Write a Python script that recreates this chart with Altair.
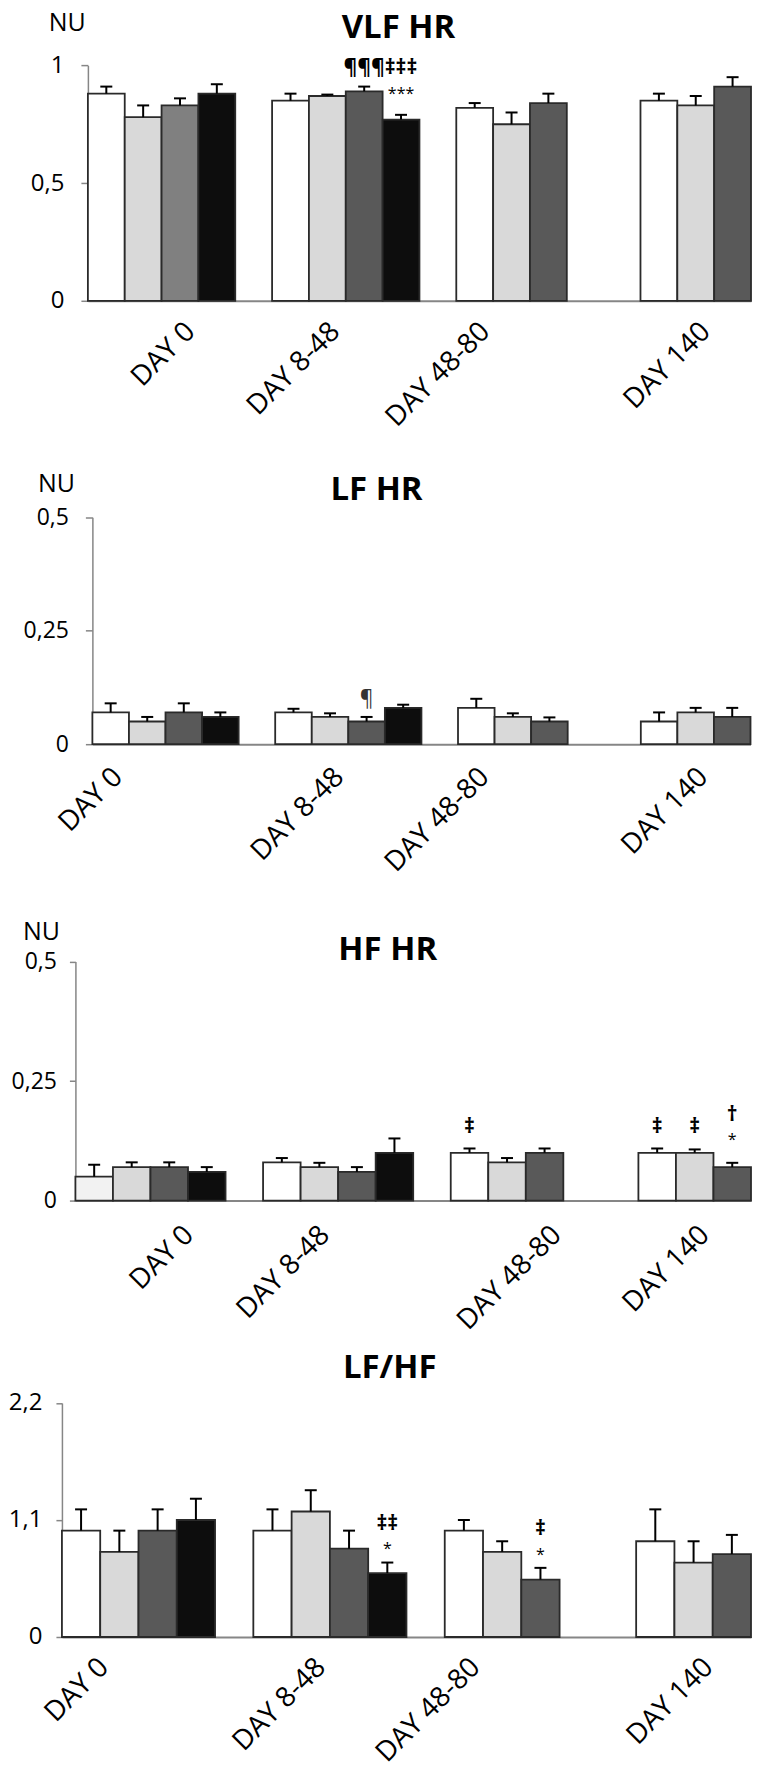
import json
import altair as alt
import pandas as pd

# ---------------- data ----------------
days = ["DAY 0", "DAY 8-48", "DAY 48-80", "DAY 140"]
series_names = ["Group 1", "Group 2", "Group 3", "Group 4"]

vlf_mean = [[0.88, 0.78, 0.83, 0.88], [0.85, 0.87, 0.89, 0.77], [0.82, 0.75, 0.84, None], [0.85, 0.83, 0.91, None]]
vlf_err = [[0.03, 0.05, 0.03, 0.04], [0.03, 0.006, 0.02, 0.02], [0.02, 0.05, 0.04, None], [0.03, 0.04, 0.04, None]]

lf_mean = [[0.07, 0.05, 0.07, 0.06], [0.07, 0.06, 0.05, 0.08], [0.08, 0.06, 0.05, None], [0.05, 0.07, 0.06, None]]
lf_err = [[0.02, 0.01, 0.02, 0.01], [0.008, 0.008, 0.01, 0.007], [0.02, 0.008, 0.009, None], [0.02, 0.01, 0.02, None]]

hf_mean = [[0.05, 0.07, 0.07, 0.06], [0.08, 0.07, 0.06, 0.10], [0.10, 0.08, 0.10, None], [0.10, 0.10, 0.07, None]]
hf_err = [[0.025, 0.01, 0.01, 0.01], [0.009, 0.009, 0.01, 0.03], [0.009, 0.009, 0.009, None], [0.009, 0.007, 0.009, None]]

lfhf_mean = [[1.0, 0.8, 1.0, 1.1], [1.0, 1.18, 0.83, 0.6], [1.0, 0.8, 0.54, None], [0.9, 0.7, 0.78, None]]
lfhf_err = [[0.2, 0.2, 0.2, 0.2], [0.2, 0.2, 0.17, 0.1], [0.1, 0.1, 0.11, None], [0.3, 0.2, 0.18, None]]

# significance marks: (day index, series index, text, y value)
vlf_sym = [(1, 2, "¶¶¶", 0.987), (1, 3, "‡‡‡", 0.987)]
vlf_star = [(1, 3, "***", 0.857)]
lf_thin = [(1, 2, "¶", 0.1005)]
hf_sym = [(2, 0, "‡", 0.1535), (3, 0, "‡", 0.1535), (3, 1, "‡", 0.1535), (3, 2, "†", 0.180)]
hf_star = [(3, 2, "*", 0.117)]
lfhf_sym = [(1, 3, "‡‡", 1.064), (2, 2, "‡", 1.017)]
lfhf_star = [(1, 3, "*", 0.784), (2, 2, "*", 0.721)]

# ---------------- styles / layout ----------------
FONT = "Open Sans"
series_fill = ["#FFFFFF", "#D9D9D9", "#595959", "#0D0D0D"]
fill_override = {("VLF HR", 0, 2): "#808080", ("HF HR", 0, 0): "#F2F2F2"}
AXIS_GRAY = "#868686"
BAR_EDGE = "#2a2a2a"
SLOTS_PER_DAY = 5
X_DOMAIN = [0, 18]
XLAB_SIZE = 28
NU_SIZE = 25
TITLE_SIZE = 33
CELL_W = 690          # common cell width; each panel's own axis sits inside it

panels = [
    dict(title="VLF HR", mean=vlf_mean, err=vlf_err, sym=vlf_sym, star=vlf_star, thin=[],
         ymax=1.0, yticks=[0, 0.5, 1], x0=26, w=664, h=412, zero=292, top=56.3, tick=7, lpad=17, ysize=24,
         nu=(-39.3, 22), tbase=29, tdx=-21, xlab=[2.516, 6.446, 10.518, 16.5], xpad=16.5),
    dict(title="LF HR", mean=lf_mean, err=lf_err, sym=[], star=[], thin=lf_thin,
         ymax=0.5, yticks=[0, 0.25, 0.5], x0=30.5, w=659, h=460, zero=324, top=96.7, tick=7, lpad=17, ysize=23,
         nu=(-54.5, 71.7), tbase=79.3, tdx=-45, xlab=[0.426, 6.479, 10.451, 16.438], xpad=18.5),
    dict(title="HF HR", mean=hf_mean, err=hf_err, sym=hf_sym, star=hf_star, thin=[],
         ymax=0.5, yticks=[0, 0.25, 0.5], x0=13.5, w=676.5, h=440, zero=321, top=81.7, tick=6, lpad=13, ysize=23,
         nu=(-52.5, 60), tbase=80, tdx=-25.5, xlab=[2.764, 6.384, 12.56, 16.5], xpad=20),
    dict(title="LF/HF", mean=lfhf_mean, err=lfhf_err, sym=lfhf_sym, star=lfhf_star, thin=[],
         ymax=2.2, yticks=[0, 1.1, 2.2], x0=0, w=690, h=432, zero=318, top=83.7, tick=6, lpad=14, ysize=24,
         nu=None, tbase=59, tdx=-16.8, xlab=[0.836, 6.505, 10.541, 16.63], xpad=16),
]


def slot_center(d, s):
    return d * SLOTS_PER_DAY + s + 0.5


def make_panel(p):
    rows = []
    for d, day in enumerate(days):
        for s, name in enumerate(series_names):
            m = p["mean"][d][s]
            if m is None:
                continue
            e = p["err"][d][s]
            rows.append(dict(day=day, series=name,
                             x0=d * SLOTS_PER_DAY + s, x1=d * SLOTS_PER_DAY + s + 1,
                             xc=slot_center(d, s), mean=m, top=m + e, base=0,
                             fill=fill_override.get((p["title"], d, s), series_fill[s])))
    df = pd.DataFrame(rows)

    xscale = alt.Scale(domain=X_DOMAIN, range=[p["x0"], p["x0"] + p["w"]], nice=False, zero=False)
    yscale = alt.Scale(domain=[0, p["ymax"]], range=[p["zero"], p["top"]], nice=False, zero=True)

    label_expr = "%s[indexof(%s, datum.value)]" % (json.dumps(days), json.dumps(p["xlab"]))
    xaxis = alt.Axis(values=p["xlab"], labelExpr=label_expr, labelAngle=-45, labelAlign="right",
                     labelBaseline="top", labelPadding=p["xpad"], ticks=False, tickSize=0,
                     domainColor=AXIS_GRAY, domainWidth=2, grid=False, title=None,
                     offset=-(p["h"] - p["zero"]), labelFont=FONT, labelFontSize=XLAB_SIZE,
                     labelColor="black", labelFlush=False, labelOverlap=False)
    yaxis = alt.Axis(values=p["yticks"], labelExpr="replace(toString(datum.value), '.', ',')",
                     domainColor=AXIS_GRAY, domainWidth=1.5, tickColor=AXIS_GRAY, tickWidth=1.5,
                     tickSize=p["tick"], labelPadding=p["lpad"], labelFont=FONT,
                     labelFontSize=p["ysize"], labelColor="black", grid=False, title=None,
                     offset=-p["x0"], labelFlush=False, labelOverlap=False)

    def X(f):
        return alt.X(f, type="quantitative", scale=xscale, axis=xaxis)

    def Y(f):
        return alt.Y(f, type="quantitative", scale=yscale, axis=yaxis)

    base = alt.Chart(df)
    bars = base.mark_bar(stroke=BAR_EDGE, strokeWidth=1.8).encode(
        x=X("x0"), x2="x1:Q", y=Y("mean"), y2="base:Q",
        fill=alt.Fill("fill:N", scale=None))
    rules = base.mark_rule(color="black", strokeWidth=2).encode(
        x=X("xc"), y=Y("mean"), y2="top:Q")
    caps = base.mark_point(shape="M -1 0 L 1 0", size=144, filled=False, color="black",
                           strokeWidth=2, opacity=1).encode(x=X("xc"), y=Y("top"))
    layers = [bars, rules, caps]

    def ann_df(items):
        return pd.DataFrame([dict(xc=slot_center(d, s), ay=v, label=t) for d, s, t, v in items])

    if p["sym"]:
        layers.append(alt.Chart(ann_df(p["sym"])).mark_text(
            font=FONT, fontSize=21, fontWeight="bold", baseline="middle", color="black").encode(
            x=X("xc"), y=Y("ay"), text="label:N"))
    if p["thin"]:
        layers.append(alt.Chart(ann_df(p["thin"])).mark_text(
            font=FONT, fontSize=21, fontWeight="normal", baseline="middle", color="#333333").encode(
            x=X("xc"), y=Y("ay"), text="label:N"))
    if p["star"]:
        layers.append(alt.Chart(ann_df(p["star"])).mark_text(
            font=FONT, fontSize=16, fontWeight="normal", baseline="alphabetic", color="black").encode(
            x=X("xc"), y=Y("ay"), text="label:N"))

    # panel heading and unit label
    head = alt.Chart(pd.DataFrame({"t": [p["title"]]})).mark_text(
        font=FONT, fontSize=TITLE_SIZE, fontWeight="bold", color="black",
        align="center", baseline="alphabetic").encode(
        text="t:N", x=alt.value(p["x0"] + p["w"] / 2 + p["tdx"]), y=alt.value(p["tbase"]))
    layers.append(head)
    if p["nu"] is not None:
        unit = alt.Chart(pd.DataFrame({"t": ["NU"]})).mark_text(
            font=FONT, fontSize=NU_SIZE, color="black", align="left", baseline="alphabetic").encode(
            text="t:N", x=alt.value(p["x0"] + p["nu"][0]), y=alt.value(p["nu"][1]))
        layers.append(unit)

    return alt.layer(*layers).properties(width=CELL_W, height=p["h"])


chart = alt.vconcat(*[make_panel(p) for p in panels], spacing=0, bounds="flush").properties(
    padding=0, background="white"
).configure_view(strokeWidth=0)

chart.save("out.html", embed_options={"renderer": "svg", "actions": False})
